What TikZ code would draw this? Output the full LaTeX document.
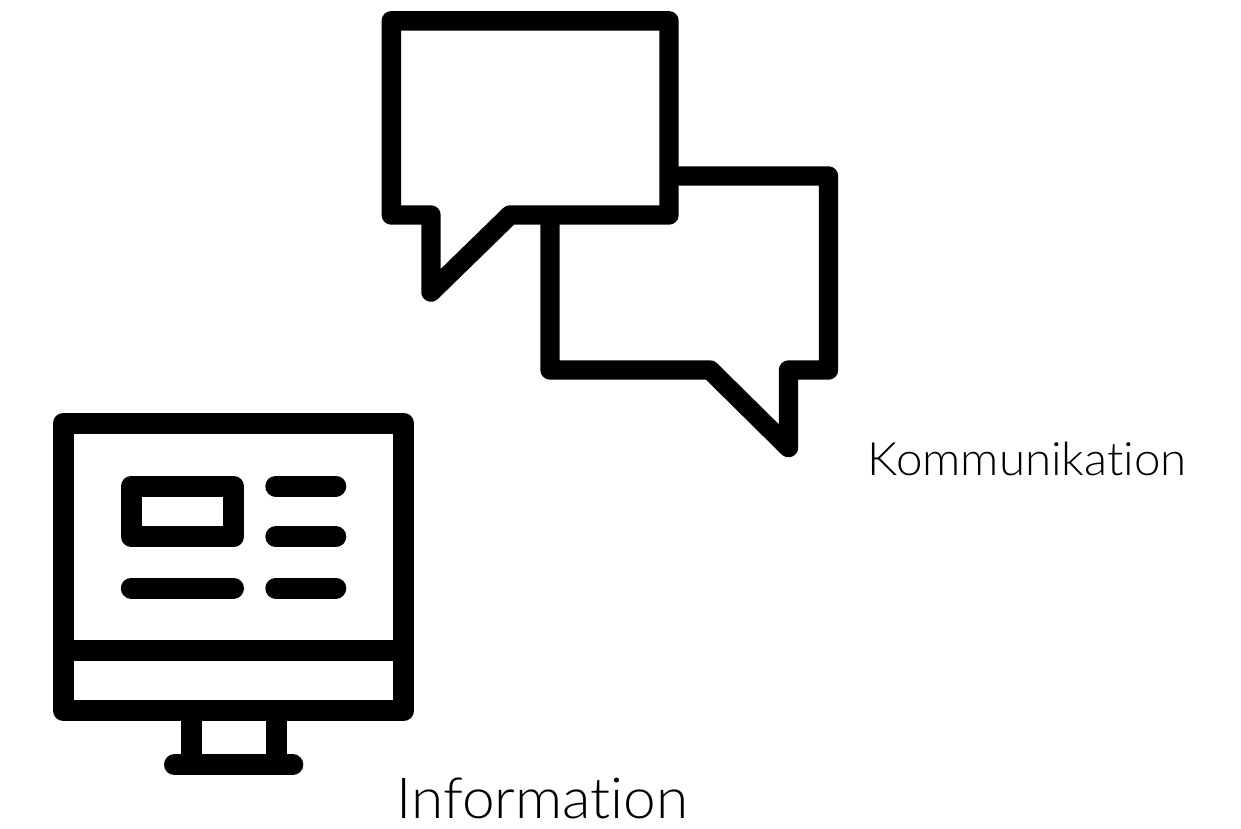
\documentclass[tikz,border=0pt]{standalone}
\usepackage{fontspec}
\setmainfont[Ligatures=NoCommon,FakeStretch=1.033]{Lato Light}
\tikzset{
  icon/.style={line width=#1, line join=round, line cap=round, draw=black},
  lbl/.style={inner sep=0pt, anchor=base west, text=black},
}
\begin{document}
\begin{tikzpicture}[x=0.75pt,y=-0.75pt]
\useasboundingbox (0,0) rectangle (1241,828);
% right bubble (behind)
\draw[icon=14.6pt, line cap=butt] (669,176) -- (828.5,176) -- (828.5,370) -- (788.5,370) -- (788.5,447.5) -- (710,370) -- (550,370) -- (550,215);
% left bubble
\draw[icon=14.6pt] (391.3,20.8) -- (669,20.8) -- (669,215) -- (510,215) -- (431,292) -- (431,215) -- (391.3,215) -- cycle;
% monitor
\draw[icon=15.75pt] (63.2,423.2) rectangle (403.8,710.5);
\draw[icon=15.75pt, line cap=butt] (63.2,650.7) -- (403.8,650.7);
\draw[icon=15.75pt, line cap=butt] (191.2,710.5) -- (191.2,764.7);
\draw[icon=15.75pt, line cap=butt] (276.2,710.5) -- (276.2,764.7);
\draw[icon=15.75pt] (174.5,764.7) -- (292.8,764.7);
\draw[icon=15.75pt] (131.3,486) rectangle (233.5,536.8);
\draw[icon=15.75pt] (275.8,486) -- (335.8,486);
\draw[icon=15.75pt] (275.8,536.8) -- (335.8,536.8);
\draw[icon=15.75pt] (275.8,588) -- (335.8,588);
\draw[icon=15.75pt] (131.3,588) -- (233.5,588);
\node[lbl, font=\fontsize{34.5}{40}\selectfont] (k) at (867.5,475.5) {Kommunikation};
\node[lbl, font=\fontsize{42.5}{50}\selectfont] (i) at (396.5,818.7) {Information};
\end{tikzpicture}
\end{document}
